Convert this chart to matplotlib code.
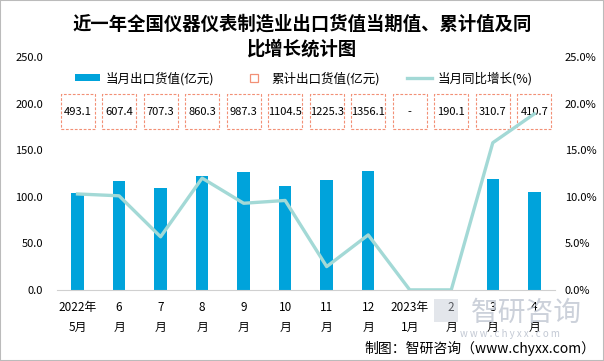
import numpy as np
import matplotlib.pyplot as plt
from matplotlib.lines import Line2D
from matplotlib.patches import Patch, Rectangle

plt.rcParams['font.family'] = ['Noto Sans CJK SC', 'DejaVu Sans']

months = ["2022年\n5月", "6\n月", "7\n月", "8\n月", "9\n月", "10\n月", "11\n月",
          "12\n月", "2023年\n1月", "2\n月", "3\n月", "4\n月"]
monthly = [103.6, 116.8, 109.0, 122.2, 126.8, 111.5, 118.2, 127.9, 0, 0, 119.0, 105.0]
cumulative = ["493.1", "607.4", "707.3", "860.3", "987.3", "1104.5", "1225.3",
              "1356.1", "-", "190.1", "310.7", "410.7"]
growth = [10.3, 10.1, 5.7, 12.0, 9.3, 9.6, 2.5, 5.9, 0.0, 0.0, 15.8, 18.9]

bar_color = "#00A3DB"
line_color = "#A3D9D6"
box_color = "#F29076"

fig = plt.figure(figsize=(6.04, 3.61), dpi=100)
ax = fig.add_axes([0.094, 0.197, 0.825, 0.645])
ax2 = ax.twinx()

x = np.arange(len(months))
ax.bar(x, monthly, width=0.3, color=bar_color, zorder=2)
ax2.plot(x, growth, color=line_color, lw=2.4, zorder=3)

# cumulative value boxes
for i, s in enumerate(cumulative):
    ax.add_patch(Rectangle((i - 0.41, 172.5), 0.82, 37.5, fill=False,
                           edgecolor=box_color, lw=0.8, linestyle=(0, (2.5, 1.5)), zorder=4))
    ax.text(i, 191, s, ha="center", va="center", fontsize=8, zorder=5)

ax.set_xlim(-0.5, len(months) - 0.5)
ax.set_ylim(0, 250)
ax2.set_ylim(0, 25)
ax.set_yticks(np.arange(0, 251, 50))
ax.set_yticklabels([f"{v:.1f}" for v in np.arange(0, 251, 50)])
ax2.set_yticks(np.arange(0, 26, 5))
ax2.set_yticklabels([f"{v:.1f}%" for v in np.arange(0, 26, 5)])
ax.set_xticks(x)
ax.set_xticklabels(months, fontsize=8.5, linespacing=1.65)

for a in (ax, ax2):
    for side in ("top", "left", "right"):
        a.spines[side].set_visible(False)
    a.tick_params(axis="y", length=0, labelsize=8, pad=10)
ax2.tick_params(axis="y", pad=7)
ax2.spines["bottom"].set_visible(False)
ax.spines["bottom"].set_color("#D0D0D0")
ax.tick_params(axis="x", length=0, pad=8)

fig.text(0.5, 0.898, "近一年全国仪器仪表制造业出口货值当期值、累计值及同\n比增长统计图",
         ha="center", va="center", fontsize=13.2, fontweight="bold", linespacing=1.4)

handles = [Patch(facecolor=bar_color),
           Line2D([], [], marker="s", ms=6, mfc="none", mec=box_color, mew=0.9, ls="none"),
           Line2D([], [], color=line_color, lw=2.4)]
labels = ["当月出口货值(亿元)", "累计出口货值(亿元)", "当月同比增长(%)"]
fig.legend(handles, labels, loc="center", bbox_to_anchor=(0.503, 0.783), ncol=3,
           frameon=False, fontsize=9, handlelength=2.0, handleheight=0.45,
           columnspacing=2.2, handletextpad=0.4)

# watermark and source
wm = "#C3C9D4"
fig.patches.append(Rectangle((0.718, 0.108), 0.04, 0.065, transform=fig.transFigure,
                             facecolor=wm, edgecolor="none", alpha=0.45))
fig.text(0.872, 0.132, "智研咨询", ha="center", va="center", fontsize=20,
         color=wm, alpha=0.85)
fig.text(0.845, 0.075, "w w w . c h y x x . c o m", ha="center", va="center",
         fontsize=7, color=wm)
fig.text(0.985, 0.036, "制图：智研咨询（www.chyxx.com）", ha="right", va="center",
         fontsize=10)

fig.patches.append(Rectangle((0, 0), 1, 1, transform=fig.transFigure, fill=False,
                             edgecolor="#BBBBBB", lw=1.5))

fig.savefig("out.png", dpi=100)
